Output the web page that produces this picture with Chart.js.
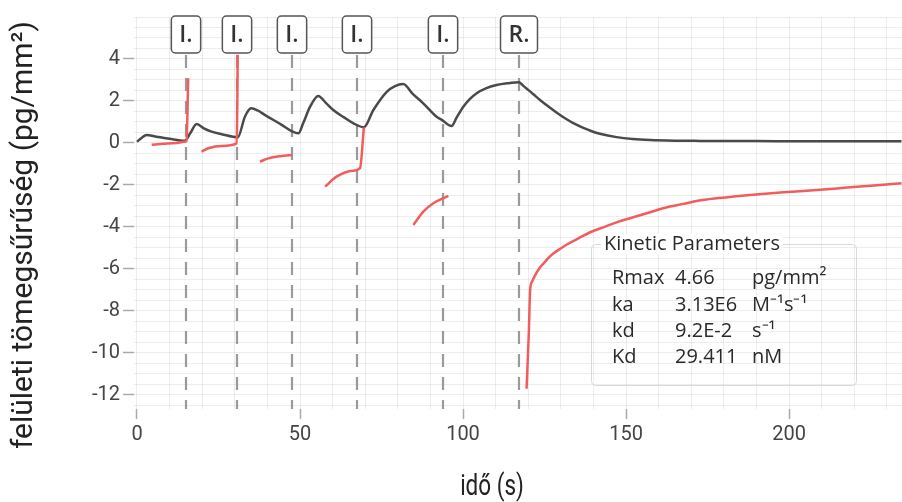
<!DOCTYPE html>
<html>
<head>
<meta charset="utf-8">
<script src="https://cdn.jsdelivr.net/npm/chart.js@4/dist/chart.umd.min.js"></script>
<style>
  html, body { margin: 0; padding: 0; background: #fff; overflow: hidden; }
  canvas { display: block; }
</style>
</head>
<body>
<canvas id="sensorgram" width="902" height="502"></canvas>
<script>
// fitted curve (black)
const fitTime = [0, 1.5, 2.9, 6, 10, 14.7, 16.3, 18.3, 20.5, 22.9, 26, 30.9, 33.1, 35, 37, 39.3, 44.4, 47.4, 49.5, 51, 53.1, 55.6, 58, 60.2, 63.5, 66.4, 69.6, 72.5, 76.6, 79, 81.7, 84.5, 87.8, 91.9, 93.5, 96.5, 98, 100.1, 102, 104.2, 107, 110.3, 114, 116, 117.2, 118.5, 120, 121.5, 124, 126.7, 129, 131.8, 134, 136.9, 139.5, 142, 147.1, 152, 157.4, 165, 172.7, 190, 210, 234.5];
const fitValue = [0.06, 0.25, 0.38, 0.3, 0.2, 0.11, 0.46, 0.9, 0.7, 0.54, 0.42, 0.27, 1.25, 1.65, 1.55, 1.33, 0.86, 0.57, 0.46, 0.95, 1.73, 2.24, 1.9, 1.57, 1.22, 0.94, 0.75, 1.57, 2.44, 2.7, 2.81, 2.35, 1.89, 1.25, 1.1, 0.81, 1.2, 1.73, 2.08, 2.37, 2.6, 2.76, 2.85, 2.88, 2.89, 2.72, 2.53, 2.33, 2.0, 1.68, 1.42, 1.13, 0.93, 0.72, 0.56, 0.44, 0.28, 0.19, 0.14, 0.11, 0.1, 0.09, 0.08, 0.08];

// measured curve (red), null = break between segments
const measTime = [4.5, 8, 12, 14.5, 15.2, 15.7, 17, 19.8, 21.9, 26, 30.6, 30.9, 34, 37.7, 40.3, 44.4, 47.5, 52, 57.7, 61.2, 66.3, 68.4, 69.6, 77, 84.8, 87.8, 90.9, 95.5, 110, 119.5, 120.2, 120.6, 121.2, 122.1, 123.5, 125.2, 127, 129.2, 132, 135.4, 139, 143.6, 147.1, 151.7, 157.4, 162, 167.6, 172, 177.8, 183, 188, 198.3, 208.5, 218.7, 226, 234.5];
const measValue = [-0.08, -0.04, 0.0, 0.06, 0.1, 3.08, null, -0.41, -0.25, -0.14, -0.02, 4.2, null, -0.89, -0.73, -0.62, -0.57, null, -2.08, -1.6, -1.32, -1.2, 0.75, null, -3.9, -3.27, -2.87, -2.52, null, -11.7, -9.0, -7.0, -6.6, -6.3, -5.95, -5.65, -5.35, -5.1, -4.82, -4.54, -4.25, -3.98, -3.78, -3.56, -3.3, -3.08, -2.9, -2.75, -2.63, -2.55, -2.48, -2.35, -2.24, -2.11, -2.02, -1.92];

// injection / regeneration markers
const injTimes = [15, 30.7, 47.5, 67.5, 93.9, 117.2];
const injLabels = ['I.', 'I.', 'I.', 'I.', 'I.', 'R.'];

// kinetic parameters box
const paramNames = ['Rmax', 'ka', 'kd', 'Kd'];
const paramValues = ['4.66', '3.13E6', '9.2E-2', '29.411'];
const paramUnits = ['pg/mm\u00B2', 'M\u207B\u00B9s\u207B\u00B9', 's\u207B\u00B9', 'nM'];

const xMin = -0.92, xMax = 234.66;
const yMin = -12.667, yMax = 6;

const markers = {
  id: 'markers',
  beforeDatasetsDraw(chart) {
    const ctx = chart.ctx;
    const xs = chart.scales.x;
    ctx.save();
    ctx.strokeStyle = '#9a9a9a';
    ctx.lineWidth = 2.2;
    ctx.setLineDash([13, 10]);
    for (let i = 0; i < injTimes.length; i++) {
      const px = Math.round(xs.getPixelForValue(injTimes[i]));
      ctx.beginPath();
      ctx.moveTo(px, 55);
      ctx.lineTo(px, chart.chartArea.bottom);
      ctx.stroke();
    }
    ctx.restore();
  },
  afterDatasetsDraw(chart) {
    const ctx = chart.ctx;
    const xs = chart.scales.x;
    ctx.save();
    ctx.font = '600 23px "Open Sans"';
    ctx.textAlign = 'center';
    ctx.textBaseline = 'middle';
    for (let i = 0; i < injTimes.length; i++) {
      const px = Math.round(xs.getPixelForValue(injTimes[i]));
      const w = ctx.measureText(injLabels[i]).width + 16;
      ctx.beginPath();
      ctx.roundRect(px - w / 2, 16, w, 37, 4);
      ctx.fillStyle = '#fff';
      ctx.fill();
      ctx.strokeStyle = '#555';
      ctx.lineWidth = 1.5;
      ctx.stroke();
      ctx.fillStyle = '#333';
      ctx.fillText(injLabels[i], px, 35);
    }
    ctx.restore();
  },
  afterDraw(chart) {
    const ctx = chart.ctx;
    // axis titles
    ctx.save();
    ctx.fillStyle = '#222';
    ctx.textAlign = 'center';
    ctx.textBaseline = 'middle';
    ctx.font = '30px Roboto';
    ctx.translate(492, 487);
    ctx.scale(0.75, 1);
    ctx.fillText('idő (s)', 0, 0);
    ctx.restore();
    ctx.save();
    ctx.fillStyle = '#222';
    ctx.textAlign = 'center';
    ctx.textBaseline = 'middle';
    ctx.font = '30px Roboto';
    ctx.translate(24, 235);
    ctx.rotate(-Math.PI / 2);
    ctx.fillText('felületi tömegsűrűség (pg/mm²)', 0, 0);
    ctx.restore();

    // kinetic parameters box
    ctx.save();
    ctx.strokeStyle = '#d6d9de';
    ctx.lineWidth = 1;
    ctx.beginPath();
    ctx.roundRect(591.5, 244.5, 265, 141, 4);
    ctx.stroke();
    ctx.font = '20px "Open Sans"';
    ctx.textBaseline = 'middle';
    ctx.textAlign = 'left';
    const tw = ctx.measureText('Kinetic Parameters').width;
    ctx.fillStyle = '#fff';
    ctx.fillRect(601, 234, tw + 6, 20);
    ctx.fillStyle = '#2a2a2a';
    ctx.fillText('Kinetic Parameters', 604, 244);
    const rowY = [278, 305, 331, 357];
    for (let i = 0; i < paramNames.length; i++) {
      ctx.fillText(paramNames[i], 612, rowY[i]);
      ctx.fillText(paramValues[i], 675, rowY[i]);
      ctx.fillText(paramUnits[i], 752, rowY[i]);
    }
    ctx.restore();
  }
};

new Chart(document.getElementById('sensorgram'), {
  type: 'line',
  data: {
    datasets: [
      {
        label: 'mért',
        data: measTime.map((t, i) => ({ x: t, y: measValue[i] })),
        borderColor: '#f25c5c',
        borderWidth: 2.5,
        pointRadius: 0,
        spanGaps: false,
        cubicInterpolationMode: 'monotone'
      },
      {
        label: 'illesztés',
        data: fitTime.map((t, i) => ({ x: t, y: fitValue[i] })),
        borderColor: '#4a4a4a',
        borderWidth: 2.5,
        pointRadius: 0,
        cubicInterpolationMode: 'monotone'
      }
    ]
  },
  options: {
    responsive: false,
    animation: false,
    layout: { padding: { top: 17, left: 0, right: 0, bottom: 0 } },
    plugins: { legend: { display: false }, tooltip: { enabled: false } },
    scales: {
      x: {
        type: 'linear',
        min: xMin,
        max: xMax,
        border: { display: false },
        grid: {
          color: 'rgba(0,0,0,0.07)',
          tickLength: 10,
          tickWidth: 1.5,
          tickColor: c => (c.tick && c.tick.value % 50 === 0) ? '#aaa' : 'rgba(0,0,0,0)'
        },
        ticks: {
          stepSize: 10,
          includeBounds: false,
          autoSkip: false,
          maxRotation: 0,
          padding: 4,
          color: '#444',
          font: { family: 'Roboto', size: 20 },
          callback: v => v % 50 === 0 ? String(v) : ''
        },
        afterFit: s => { s.height = 93; }
      },
      y: {
        min: yMin,
        max: yMax,
        border: { display: false },
        grid: {
          color: 'rgba(0,0,0,0.07)',
          tickLength: 11,
          tickWidth: 1.5,
          tickColor: c => (c.tick && c.tick.value % 2 === 0 && c.tick.value <= 4) ? '#aaa' : 'rgba(0,0,0,0)'
        },
        ticks: {
          stepSize: 0.5,
          includeBounds: false,
          autoSkip: false,
          padding: 3,
          color: '#444',
          font: { family: 'Roboto', size: 20 },
          callback: v => (v % 2 === 0 && v <= 4) ? String(v) : ''
        },
        afterFit: s => { s.width = 134; }
      }
    }
  },
  plugins: [markers]
});
</script>
</body>
</html>
